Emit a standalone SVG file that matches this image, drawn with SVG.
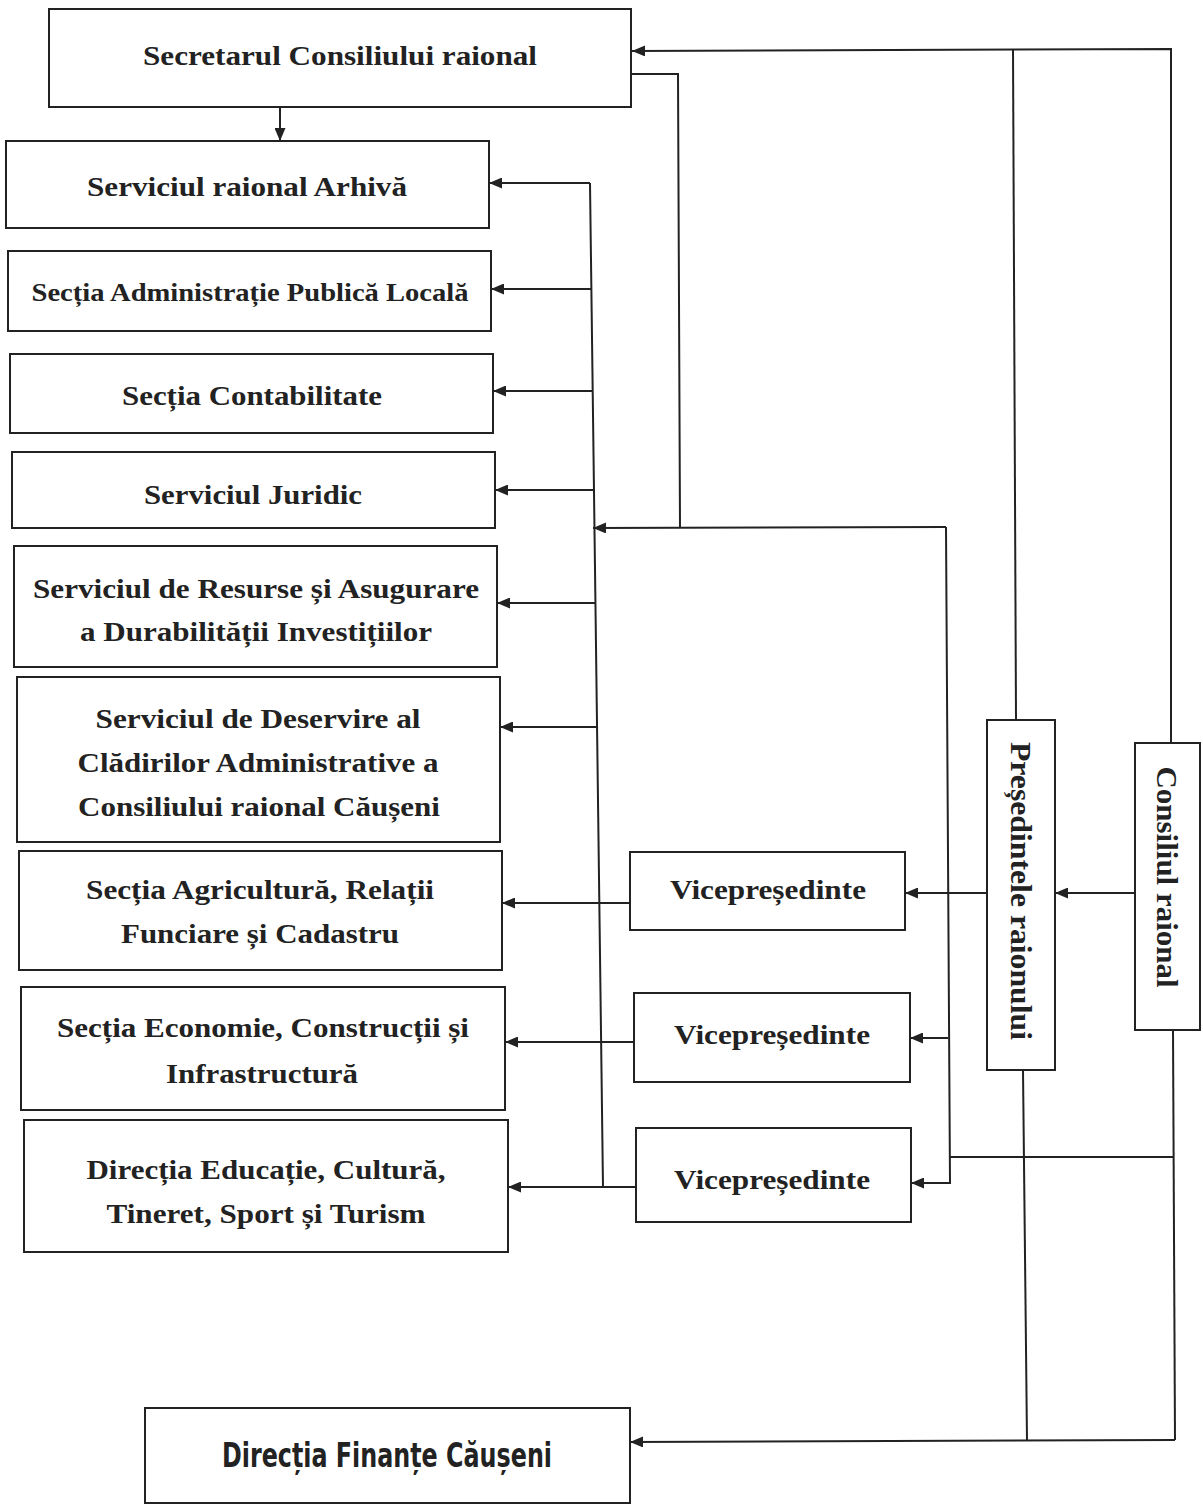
<svg xmlns="http://www.w3.org/2000/svg" width="1203" height="1506" viewBox="0 0 1203 1506">
<style>
.box{fill:#fff;stroke:#222;stroke-width:2}
.t{font-family:"Liberation Serif","Times New Roman",serif;font-weight:bold;fill:#222;text-anchor:middle}
.ln{fill:none;stroke:#222;stroke-width:2}
.arr{fill:none;stroke:#222;stroke-width:2;marker-end:url(#ah)}
</style>
<defs>
<marker id="ah" viewBox="0 0 13 11" refX="13" refY="5.5" markerWidth="13" markerHeight="11" markerUnits="userSpaceOnUse" orient="auto">
<path d="M0,0 L13,5.5 L0,11 Z" fill="#222"/>
</marker>
</defs>
<rect width="1203" height="1506" fill="#fff"/>

<g id="connectors">
<polyline class="arr" points="1171,743 1171,49 632,51"/>
<line class="ln" x1="1013" y1="50" x2="1016" y2="720"/>
<line class="arr" x1="280" y1="107" x2="280" y2="141"/>
<polyline class="ln" points="631,74 678,74 680,527"/>
<polyline class="arr" points="946,527 593,528"/>
<line class="ln" x1="590" y1="183" x2="603" y2="1187"/>
<line class="arr" x1="590" y1="183" x2="489" y2="183"/>
<line class="arr" x1="591" y1="289" x2="491" y2="289"/>
<line class="arr" x1="592" y1="391" x2="493" y2="391"/>
<line class="arr" x1="594" y1="490" x2="495" y2="490"/>
<line class="arr" x1="595" y1="603" x2="497" y2="603"/>
<line class="arr" x1="597" y1="727" x2="500" y2="727"/>
<line class="arr" x1="630" y1="903" x2="502" y2="903"/>
<line class="arr" x1="634" y1="1042" x2="505" y2="1042"/>
<line class="arr" x1="636" y1="1187" x2="508" y2="1187"/>
<line class="arr" x1="1135" y1="893" x2="1055" y2="893"/>
<line class="arr" x1="987" y1="893" x2="905" y2="893"/>
<polyline class="arr" points="946,527 950,1183 911,1183"/>
<line class="arr" x1="948" y1="1038" x2="910" y2="1038"/>
<line class="ln" x1="949" y1="1157" x2="1174" y2="1157"/>
<line class="ln" x1="1023" y1="1070" x2="1027" y2="1440"/>
<line class="ln" x1="1173" y1="1030" x2="1175" y2="1440"/>
<polyline class="arr" points="1175,1440 630,1442"/>
</g>

<g id="secretarul">
<rect class="box" x="49" y="9" width="582" height="98"/>
<text class="t" x="340" y="65" font-size="28" textLength="394" lengthAdjust="spacingAndGlyphs">Secretarul Consiliului raional</text>
</g>
<g id="arhiva">
<rect class="box" x="6" y="141" width="483" height="87"/>
<text class="t" x="247" y="196" font-size="28" textLength="320" lengthAdjust="spacingAndGlyphs">Serviciul raional Arhivă</text>
</g>
<g id="apl">
<rect class="box" x="8" y="251" width="483" height="80"/>
<text class="t" x="250" y="301" font-size="25" textLength="437" lengthAdjust="spacingAndGlyphs">Secția Administrație Publică Locală</text>
</g>
<g id="contabilitate">
<rect class="box" x="10" y="354" width="483" height="79"/>
<text class="t" x="252" y="405" font-size="28" textLength="260" lengthAdjust="spacingAndGlyphs">Secția Contabilitate</text>
</g>
<g id="juridic">
<rect class="box" x="12" y="452" width="483" height="76"/>
<text class="t" x="253" y="504" font-size="28" textLength="218" lengthAdjust="spacingAndGlyphs">Serviciul Juridic</text>
</g>
<g id="resurse">
<rect class="box" x="14" y="546" width="483" height="121"/>
<text class="t" x="256" y="598" font-size="28" textLength="446" lengthAdjust="spacingAndGlyphs">Serviciul de Resurse și Asugurare</text>
<text class="t" x="256" y="641" font-size="28" textLength="352" lengthAdjust="spacingAndGlyphs">a Durabilității Investițiilor</text>
</g>
<g id="deservire">
<rect class="box" x="17" y="677" width="483" height="165"/>
<text class="t" x="258" y="728" font-size="28" textLength="325" lengthAdjust="spacingAndGlyphs">Serviciul de Deservire al</text>
<text class="t" x="258" y="772" font-size="28" textLength="361" lengthAdjust="spacingAndGlyphs">Clădirilor Administrative a</text>
<text class="t" x="259" y="816" font-size="28" textLength="362" lengthAdjust="spacingAndGlyphs">Consiliului raional Căușeni</text>
</g>
<g id="agricultura">
<rect class="box" x="19" y="851" width="483" height="119"/>
<text class="t" x="260" y="899" font-size="28" textLength="348" lengthAdjust="spacingAndGlyphs">Secția Agricultură, Relații</text>
<text class="t" x="260" y="943" font-size="28" textLength="278" lengthAdjust="spacingAndGlyphs">Funciare și Cadastru</text>
</g>
<g id="economie">
<rect class="box" x="21" y="987" width="484" height="123"/>
<text class="t" x="263" y="1037" font-size="28" textLength="412" lengthAdjust="spacingAndGlyphs">Secția Economie, Construcții și</text>
<text class="t" x="262" y="1083" font-size="28" textLength="192" lengthAdjust="spacingAndGlyphs">Infrastructură</text>
</g>
<g id="educatie">
<rect class="box" x="24" y="1120" width="484" height="132"/>
<text class="t" x="266" y="1179" font-size="28" textLength="359" lengthAdjust="spacingAndGlyphs">Direcția Educație, Cultură,</text>
<text class="t" x="266" y="1223" font-size="28" textLength="319" lengthAdjust="spacingAndGlyphs">Tineret, Sport și Turism</text>
</g>
<g id="vice1">
<rect class="box" x="630" y="852" width="275" height="78"/>
<text class="t" x="768" y="899" font-size="28" textLength="196" lengthAdjust="spacingAndGlyphs">Vicepreședinte</text>
</g>
<g id="vice2">
<rect class="box" x="634" y="993" width="276" height="89"/>
<text class="t" x="772" y="1044" font-size="28" textLength="196" lengthAdjust="spacingAndGlyphs">Vicepreședinte</text>
</g>
<g id="vice3">
<rect class="box" x="636" y="1128" width="275" height="94"/>
<text class="t" x="772" y="1189" font-size="28" textLength="196" lengthAdjust="spacingAndGlyphs">Vicepreședinte</text>
</g>
<g id="presedintele">
<rect class="box" x="987" y="720" width="68" height="350"/>
<text class="t" x="1021" y="901" font-size="29" textLength="298" lengthAdjust="spacingAndGlyphs" transform="rotate(90 1021 891)">Președintele raionului</text>
</g>
<g id="consiliul">
<rect class="box" x="1135" y="743" width="65" height="287"/>
<text class="t" x="1167" y="887" font-size="29" textLength="221" lengthAdjust="spacingAndGlyphs" transform="rotate(90 1167 877)">Consiliul raional</text>
</g>
<g id="finante">
<rect class="box" x="145" y="1408" width="485" height="95"/>
<text x="387" y="1467" font-family="'DejaVu Sans Condensed','DejaVu Sans',sans-serif" font-weight="bold" font-size="33" fill="#222" text-anchor="middle" textLength="330" lengthAdjust="spacingAndGlyphs">Direcția Finanțe Căușeni</text>
</g>
</svg>
